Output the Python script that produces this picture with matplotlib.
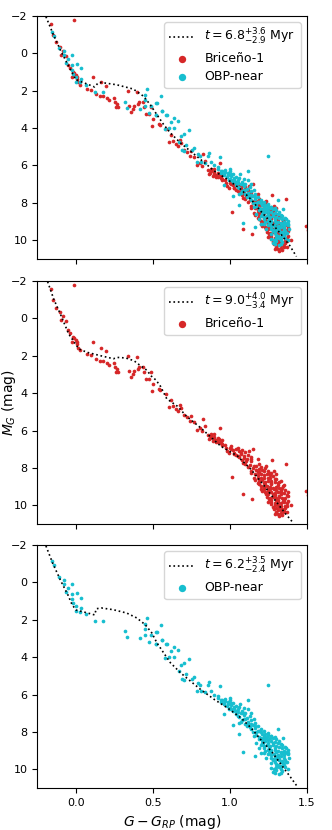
import numpy as np
import matplotlib
matplotlib.use('Agg')
import matplotlib.pyplot as plt

# ── Isochrones (G-G_RP, M_G) ─────────────────────────────────────────────
iso_all_c = [-0.194, -0.15, -0.096, -0.04, 0.0, 0.057, 0.122, 0.144, 0.166, 0.264, 0.373,
             0.44, 0.483, 0.526, 0.57, 0.614, 0.68, 0.745, 0.81, 0.9, 0.985, 1.072,
             1.138, 1.2, 1.27, 1.334, 1.39, 1.432]
iso_all_m = [-1.96, -1.08, -0.1, 0.79, 1.41, 1.59, 1.8, 1.59, 1.56, 1.68, 1.91,
             2.3, 2.75, 3.28, 3.81, 4.26, 4.8, 5.24, 5.68, 6.3, 6.75, 7.28,
             7.82, 8.44, 9.07, 9.7, 10.3, 10.87]

iso_bri_c = [-0.183, -0.143, -0.1, -0.046, 0.02, 0.074, 0.161, 0.244, 0.27, 0.324, 0.378,
             0.411, 0.46, 0.49, 0.52, 0.55, 0.59, 0.659, 0.72, 0.811, 0.941, 1.05,
             1.137, 1.224, 1.289, 1.355, 1.409]
iso_bri_m = [-1.96, -1.02, -0.22, 0.84, 1.64, 1.82, 2.0, 2.16, 2.09, 2.12, 2.27,
             2.48, 2.77, 3.09, 3.3, 3.64, 4.3, 4.7, 5.25, 5.86, 6.84, 7.37,
             8.08, 8.97, 9.68, 10.39, 10.92]

iso_obp_c = [-0.194, -0.15, -0.096, -0.052, -0.024, 0.002, 0.068, 0.122, 0.133, 0.166, 0.242,
             0.33, 0.395, 0.45, 0.493, 0.526, 0.57, 0.614, 0.68, 0.745, 0.81, 0.9,
             0.985, 1.072, 1.138, 1.2, 1.27, 1.334, 1.39, 1.44]
iso_obp_m = [-1.95, -1.02, -0.05, 0.66, 1.2, 1.48, 1.62, 1.74, 1.41, 1.37, 1.46,
             1.64, 1.9, 2.26, 2.7, 3.23, 3.77, 4.3, 4.84, 5.29, 5.73, 6.27,
             6.72, 7.25, 7.79, 8.41, 9.04, 9.76, 10.38, 10.95]

# ── Briceño-1 members (color, M_G) ───────────────────────────────────────
bri_upper = [(-0.009, -1.79), (-0.161, -1.56), (-0.148, -0.97), (-0.126, -0.58), (-0.104, -0.36),
             (-0.082, -0.13), (-0.095, 0.1), (-0.067, 0.13), (-0.052, 0.63), (-0.039, 0.81),
             (-0.017, 0.99), (-0.024, 1.24), (-0.002, 1.16), (0.005, 1.38), (0.013, 1.56),
             (0.026, 1.7), (0.009, 1.29), (-0.009, 1.06), (0.109, 1.24), (0.07, 1.91),
             (0.096, 1.95), (0.128, 2.18), (0.161, 1.56), (0.194, 1.73), (0.157, 2.3),
             (0.178, 2.27), (0.2, 2.41), (0.215, 2.5), (0.248, 2.41), (0.252, 2.59),
             (0.27, 2.71), (0.259, 2.89), (0.276, 2.85), (0.339, 2.0), (0.346, 2.84),
             (0.357, 3.12), (0.368, 2.98), (0.378, 2.8), (0.4, 2.09), (0.404, 2.71),
             (0.411, 2.59), (0.439, 2.59), (0.444, 2.89), (0.455, 3.24), (0.476, 3.24),
             (0.487, 2.89), (0.498, 3.51), (0.541, 3.78)]
bri_lower = [(0.492, 3.9), (0.546, 3.81), (0.583, 4.03), (0.615, 4.35), (0.605, 4.74),
             (0.633, 4.7), (0.648, 4.84), (0.676, 4.61), (0.681, 4.79), (0.663, 4.97),
             (0.702, 5.15), (0.72, 5.27), (0.746, 5.24), (0.742, 5.5), (0.768, 5.56),
             (0.826, 5.38), (0.839, 5.77), (0.789, 5.98), (0.807, 5.86), (0.822, 6.04),
             (0.876, 6.21), (0.935, 5.86), (0.898, 6.44), (0.92, 6.39), (0.909, 6.62),
             (0.941, 6.57), (0.952, 6.75), (0.865, 6.48), (0.974, 6.92), (1.007, 6.98),
             (1.04, 7.01), (1.072, 7.19), (0.996, 7.19), (1.05, 7.37), (1.094, 7.37),
             (1.126, 7.1), (1.148, 6.98), (1.137, 7.4), (1.028, 7.23), (1.104, 7.64),
             (1.137, 7.64), (1.18, 7.51), (1.083, 7.76), (1.159, 7.9), (1.191, 7.81),
             (1.235, 7.9), (1.272, 7.58), (1.365, 7.81), (1.013, 8.49), (1.137, 8.26),
             (1.18, 8.22), (1.224, 8.17), (1.257, 8.26), (1.289, 8.17), (1.159, 8.52),
             (1.202, 8.52), (1.246, 8.52), (1.294, 8.58), (1.18, 8.83), (1.224, 8.83),
             (1.267, 8.83), (1.322, 8.76), (1.344, 8.97), (1.202, 9.11), (1.246, 9.11),
             (1.289, 9.15), (1.333, 9.18), (1.083, 9.38), (1.144, 9.68), (1.235, 9.41),
             (1.278, 9.41), (1.322, 9.5), (1.38, 9.5), (1.257, 9.68), (1.3, 9.72),
             (1.344, 9.77), (1.267, 9.95), (1.311, 10.0), (1.355, 10.04), (1.398, 9.98),
             (1.289, 10.21), (1.333, 10.25), (1.311, 10.48), (1.372, 10.36), (1.495, 9.25),
             (1.505, 9.45)]
bri_dense = [(0.88, 6.3), (0.9, 6.35), (0.91, 6.5), (0.93, 6.45), (0.89, 6.55), (0.92, 6.6),
             (0.94, 6.65), (0.95, 6.5), (1.0, 6.95), (1.02, 7.05), (1.05, 6.95), (1.06, 7.1),
             (1.08, 7.05), (1.1, 7.15), (1.03, 7.2), (1.07, 7.25), (1.12, 7.3), (1.09, 7.45),
             (1.11, 7.55), (1.14, 7.5), (1.06, 7.4), (1.13, 7.85), (1.15, 8.0), (1.17, 8.1),
             (1.19, 8.05), (1.21, 8.1), (1.14, 8.15), (1.16, 8.3), (1.18, 8.4), (1.2, 8.35),
             (1.22, 8.4), (1.24, 8.35), (1.26, 8.4), (1.28, 8.45), (1.19, 8.2), (1.16, 8.65),
             (1.19, 8.7), (1.21, 8.65), (1.23, 8.75), (1.25, 8.7), (1.27, 8.7), (1.29, 8.75),
             (1.31, 8.8), (1.2, 8.95), (1.22, 9.0), (1.24, 8.95), (1.26, 9.0), (1.28, 9.05),
             (1.3, 9.0), (1.32, 9.05), (1.34, 9.1), (1.21, 9.25), (1.23, 9.3), (1.25, 9.25),
             (1.27, 9.3), (1.29, 9.35), (1.31, 9.3), (1.33, 9.3), (1.35, 9.35), (1.24, 9.55),
             (1.26, 9.6), (1.28, 9.55), (1.3, 9.6), (1.32, 9.55), (1.34, 9.6), (1.36, 9.6),
             (1.25, 9.85), (1.27, 9.8), (1.29, 9.9), (1.31, 9.85), (1.33, 9.9), (1.35, 9.85),
             (1.37, 9.9), (1.28, 10.1), (1.3, 10.15), (1.32, 10.1), (1.34, 10.2), (1.36, 10.15),
             (1.3, 10.35), (1.33, 10.4), (1.35, 10.35), (1.32, 10.55)]
bri_fill = [(1.17, 7.9), (1.2, 7.95), (1.23, 8.0), (1.25, 8.15), (1.27, 8.25), (1.3, 8.3),
            (1.18, 8.55), (1.22, 8.55), (1.26, 8.55), (1.3, 8.6), (1.33, 8.7), (1.35, 8.9),
            (1.19, 8.85), (1.23, 8.9), (1.27, 8.88), (1.31, 8.92), (1.36, 9.2), (1.38, 9.3),
            (1.22, 9.15), (1.26, 9.15), (1.3, 9.18), (1.25, 9.4), (1.29, 9.45), (1.33, 9.42),
            (1.37, 9.45), (1.27, 9.7), (1.31, 9.72), (1.35, 9.7), (1.38, 9.75), (1.29, 9.98),
            (1.33, 10.02), (1.37, 10.05), (1.31, 10.25), (1.35, 10.28), (1.29, 10.45), (1.34, 10.5),
            (1.1, 7.8), (1.12, 7.95), (1.08, 7.6), (1.04, 7.3), (0.98, 7.1), (1.01, 6.85),
            (0.97, 6.8), (0.95, 6.7), (0.87, 6.4), (0.86, 6.25), (0.9, 6.2)]

# ── OBP-near members (color, M_G) ────────────────────────────────────────
obp_upper = [(-0.154, -1.15), (-0.143, -0.93), (-0.11, -0.28), (-0.074, -0.13), (-0.078, 0.1),
             (-0.028, 0.08), (-0.052, 0.31), (-0.061, 0.52), (0.009, 0.58), (-0.028, 0.63),
             (-0.024, 0.9), (0.031, 0.81), (-0.017, 1.11), (-0.002, 1.29), (0.031, 1.38),
             (-0.002, 1.52), (0.026, 1.56), (0.063, 1.7), (0.122, 2.09), (0.174, 2.05),
             (0.32, 2.62), (0.33, 2.91), (0.465, 1.91), (0.448, 2.23), (0.552, 2.27),
             (0.448, 2.48), (0.415, 2.98), (0.448, 2.8), (0.487, 2.84), (0.52, 2.66),
             (0.472, 3.19), (0.52, 3.28), (0.559, 3.07), (0.585, 3.3)]
obp_lower = [(0.524, 2.66), (0.518, 3.28), (0.56, 3.1), (0.59, 3.28), (0.64, 3.48),
             (0.66, 3.6), (0.615, 3.65), (0.576, 4.04), (0.605, 3.99), (0.637, 3.99),
             (0.735, 4.1), (0.702, 4.31), (0.68, 4.44), (0.67, 4.76), (0.713, 4.88),
             (0.69, 5.16), (0.702, 5.24), (0.757, 5.16), (0.768, 5.06), (0.79, 5.38),
             (0.807, 5.47), (0.865, 5.32), (0.855, 5.47), (0.785, 5.79), (0.815, 5.82),
             (0.84, 5.88), (0.876, 5.82), (0.937, 5.56), (0.898, 6.0), (0.92, 6.09),
             (0.94, 6.27), (1.0, 6.21), (0.963, 6.44), (0.985, 6.53), (1.007, 6.44),
             (1.024, 6.68), (1.068, 6.48), (1.115, 6.3), (0.959, 7.03), (0.996, 6.8),
             (1.04, 6.89), (1.055, 7.16), (1.09, 6.71), (1.115, 6.76), (1.083, 6.98),
             (1.018, 7.65), (1.06, 7.51), (1.093, 7.33), (1.137, 6.98), (1.155, 7.33),
             (1.115, 7.6), (1.137, 7.87), (1.163, 7.69), (1.06, 8.13), (1.19, 7.96),
             (1.224, 7.96), (1.246, 8.04), (1.311, 7.83), (1.159, 8.22), (1.2, 8.31),
             (1.235, 8.31), (1.267, 8.22), (1.17, 8.58), (1.213, 8.58), (1.246, 8.58),
             (1.278, 8.58), (1.344, 8.35), (1.19, 8.84), (1.224, 8.84), (1.257, 8.84),
             (1.294, 8.84), (1.365, 8.84), (1.083, 9.06), (1.163, 9.29), (1.224, 9.11),
             (1.257, 9.11), (1.289, 9.2), (1.333, 9.11), (1.376, 9.11), (1.235, 9.38),
             (1.278, 9.43), (1.322, 9.43), (1.387, 9.38), (1.267, 9.64), (1.3, 9.73),
             (1.344, 9.68), (1.365, 9.61), (1.289, 10.0), (1.333, 10.0), (1.376, 9.96),
             (1.322, 10.27), (1.294, 10.18), (1.267, 9.91), (1.2, 9.11), (1.25, 5.47)]
obp_dense = [(0.95, 6.3), (0.97, 6.35), (0.99, 6.4), (0.96, 6.5), (0.98, 6.6), (1.01, 6.55),
             (1.0, 6.7), (1.03, 6.75), (1.05, 6.8), (1.02, 6.9), (1.07, 7.0), (1.04, 7.05),
             (1.09, 7.1), (1.06, 7.2), (1.11, 7.25), (1.08, 7.35), (1.12, 7.45), (1.1, 7.55),
             (1.14, 7.6), (1.13, 7.75), (1.16, 7.8), (1.18, 7.95), (1.15, 8.0), (1.21, 8.1),
             (1.17, 8.15), (1.19, 8.25), (1.22, 8.2), (1.24, 8.25), (1.26, 8.3), (1.28, 8.35),
             (1.3, 8.4), (1.21, 8.45), (1.23, 8.5), (1.25, 8.45), (1.27, 8.5), (1.29, 8.55),
             (1.31, 8.6), (1.33, 8.65), (1.2, 8.7), (1.22, 8.75), (1.24, 8.7), (1.26, 8.75),
             (1.28, 8.7), (1.3, 8.75), (1.32, 8.8), (1.34, 8.85), (1.23, 9.0), (1.25, 8.95),
             (1.27, 9.0), (1.29, 8.95), (1.31, 9.0), (1.33, 9.05), (1.35, 9.0), (1.37, 9.05),
             (1.25, 9.2), (1.27, 9.25), (1.29, 9.3), (1.31, 9.25), (1.33, 9.3), (1.35, 9.25),
             (1.28, 9.5), (1.3, 9.45), (1.32, 9.5), (1.34, 9.55), (1.36, 9.5), (1.31, 9.75),
             (1.33, 9.8), (1.35, 9.75), (1.3, 9.9), (1.34, 10.1), (1.28, 10.15)]
obp_fill = [(0.92, 6.2), (0.94, 6.4), (0.97, 6.25), (1.0, 6.3), (1.02, 6.45), (1.04, 6.6),
            (1.06, 6.65), (1.01, 6.8), (1.05, 6.95), (1.08, 6.9), (1.1, 7.0), (1.13, 7.15),
            (1.07, 7.45), (1.1, 7.3), (1.14, 7.35), (1.16, 7.5), (1.11, 7.7), (1.15, 7.65),
            (1.18, 7.7), (1.2, 7.85), (1.17, 8.0), (1.2, 8.0), (1.23, 8.1), (1.25, 8.15),
            (1.27, 8.2), (1.29, 8.25), (1.32, 8.5), (1.34, 8.7), (1.36, 8.8), (1.38, 8.95),
            (1.36, 9.15), (1.38, 9.2), (1.26, 9.1), (1.3, 9.1), (1.34, 9.15), (1.27, 9.4),
            (1.31, 9.35), (1.35, 9.4), (1.29, 9.6), (1.33, 9.62), (1.37, 9.6), (1.32, 9.9),
            (1.36, 9.88), (1.3, 10.05), (1.33, 10.2), (1.27, 8.95), (1.21, 8.6), (1.19, 8.4),
            (1.22, 8.35)]

ages = [r'$t=6.8^{+3.6}_{-2.9}$ Myr', r'$t=9.0^{+4.0}_{-3.4}$ Myr', r'$t=6.2^{+3.5}_{-2.4}$ Myr']

bri = np.array(bri_upper + bri_lower + bri_dense + bri_fill)
obp = np.array(obp_upper + obp_lower + obp_dense + obp_fill)

RED = '#d62728'
CYAN = '#17becf'

fig = plt.figure(figsize=(3.32, 8.30), dpi=100)
rects = [[0.1124, 0.688, 0.812, 0.2928],
         [0.1124, 0.3687, 0.812, 0.2928],
         [0.1124, 0.0506, 0.812, 0.2928]]
axes = [fig.add_axes(r) for r in rects]

panels = [(iso_all_c, iso_all_m, True, True),
          (iso_bri_c, iso_bri_m, True, False),
          (iso_obp_c, iso_obp_m, False, True)]

for ax, (ic, im, show_bri, show_obp), age in zip(axes, panels, ages):
    ax.plot(ic, im, color='black', linestyle=':', linewidth=1.2, label=age)
    if show_bri:
        ax.scatter(bri[:, 0], bri[:, 1], s=7, color=RED, linewidths=0, label='Briceño-1')
    if show_obp:
        ax.scatter(obp[:, 0], obp[:, 1], s=7, color=CYAN, linewidths=0, label='OBP-near')
    ax.set_xlim(-0.25, 1.5)
    ax.set_ylim(11, -2)
    ax.set_xticks([0.0, 0.5, 1.0, 1.5])
    ax.set_yticks([-2, 0, 2, 4, 6, 8, 10])
    ax.tick_params(labelsize=8)
    ax.legend(loc='upper right', fontsize=9, markerscale=2, labelspacing=0.4)

axes[0].tick_params(labelbottom=False)
axes[1].tick_params(labelbottom=False)
axes[1].set_ylabel(r'$M_G$ (mag)', fontsize=10)
axes[1].yaxis.set_label_coords(-0.072, 0.5)
axes[2].set_xlabel(r'$G-G_{RP}$ (mag)', fontsize=10)

plt.savefig('out.png', dpi=100)
